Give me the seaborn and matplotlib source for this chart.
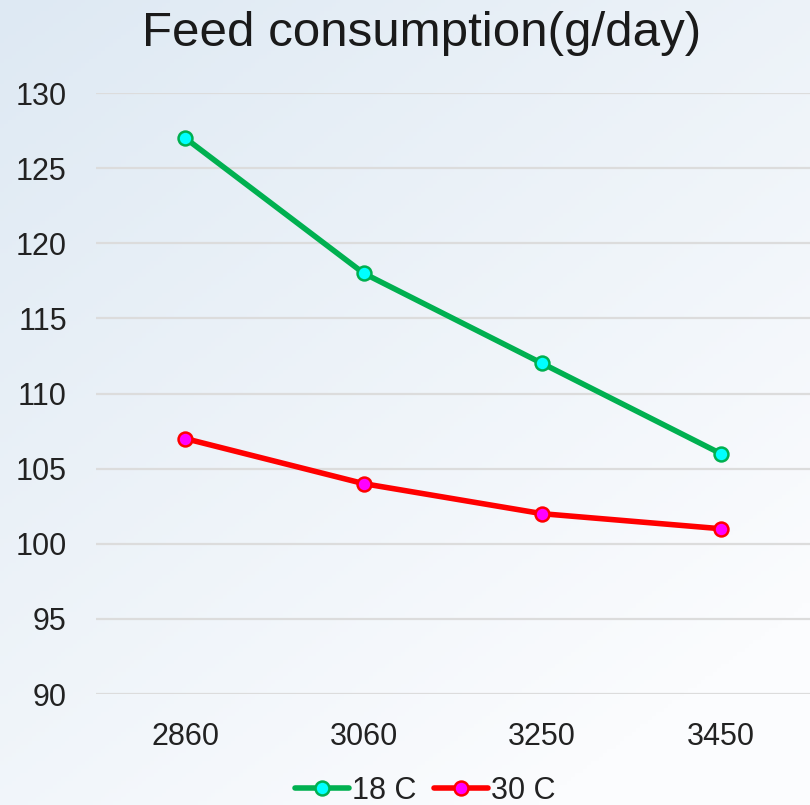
import numpy as np
import pandas as pd
import matplotlib
matplotlib.use("Agg")
import matplotlib.pyplot as plt
import seaborn as sns

categories = ["2860", "3060", "3250", "3450"]
series_names = ["18 C", "30 C"]
values_18 = [127, 118, 112, 106]
values_30 = [107, 104, 102, 101]
yticks = [90, 95, 100, 105, 110, 115, 120, 125, 130]

df = pd.DataFrame({
    "energy": categories * 2,
    "value": values_18 + values_30,
    "series": [series_names[0]] * 4 + [series_names[1]] * 4,
})

sns.set_theme(style="white")
plt.rcParams["font.family"] = ["Liberation Sans", "DejaVu Sans"]

fig = plt.figure(figsize=(8.1, 8.05), dpi=100)

# background gradient
bg = fig.add_axes([0, 0, 1, 1], zorder=-10)
h, w = 200, 200
yy, xx = np.mgrid[0:1:h * 1j, 0:1:w * 1j]
t = np.clip((xx * 0.6 + yy * 0.8) / 1.2, 0, 1)
top = np.array([222, 233, 243]) / 255
bot = np.array([251, 252, 254]) / 255
img = top[None, None, :] * (1 - t[..., None]) + bot[None, None, :] * t[..., None]
bg.imshow(img, extent=[0, 1, 0, 1], aspect="auto", origin="upper")
bg.axis("off")

ax = fig.add_axes([96 / 810, 1 - 694 / 805, 1 - 96 / 810, (694 - 93) / 805])
ax.set_facecolor("none")

palette = {"18 C": "#00B050", "30 C": "#FF0000"}
faces = {"18 C": "#00FFFF", "30 C": "#FF00FF"}
sns.lineplot(data=df, x="energy", y="value", hue="series", palette=palette,
             linewidth=4.0, ax=ax, legend=False, sort=False)
for name in series_names:
    sub = df[df["series"] == name]
    ax.plot(sub["energy"], sub["value"], linestyle="none", marker="o",
            markersize=10, markerfacecolor=faces[name],
            markeredgecolor=palette[name], markeredgewidth=1.8, zorder=5)

ax.set_ylim(90, 130)
ax.set_yticks(yticks)
ax.set_xlim(-0.5, 3.5)
ax.grid(axis="y", color="#dcdcdc", linewidth=1.6)
ax.set_axisbelow(True)
for s in ax.spines.values():
    s.set_visible(False)
ax.tick_params(axis="both", length=0, labelsize=22, labelcolor="#222222")
ax.tick_params(axis="y", pad=21)
ax.tick_params(axis="x", pad=20)
ax.set_xlabel("")
ax.set_ylabel("")

fig.text(0.52, 1 - 33 / 805, "Feed consumption(g/day)", ha="center", va="center",
         fontsize=35.5, color="#1a1a1a")

from matplotlib.lines import Line2D
handles = [Line2D([0], [0], color=palette[n], linewidth=4.0, marker="o",
                  markersize=10, markerfacecolor=faces[n],
                  markeredgecolor=palette[n], markeredgewidth=1.8)
           for n in series_names]
fig.legend(handles, series_names, loc="center", bbox_to_anchor=(0.525, 1 - 791 / 805),
           ncol=2, frameon=False, fontsize=22, handlelength=1.75,
           handletextpad=0.1, columnspacing=0.6, labelcolor="#222222")

fig.savefig("out.png", dpi=100)
